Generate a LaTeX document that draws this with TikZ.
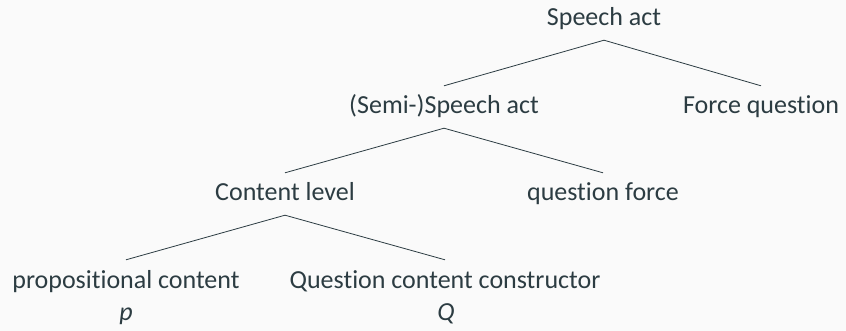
\documentclass[tikz,border=0pt]{standalone}
\usepackage{fontspec}
\setmainfont[RawFeature={-liga;-calt;-clig;-dlig}]{Carlito}
\definecolor{ink}{RGB}{44,60,66}
\definecolor{bg}{RGB}{250,250,250}
\begin{document}
\begin{tikzpicture}[x=1pt,y=-1pt,
  lab/.style={font=\fontsize{26}{30}\selectfont, text=ink, anchor=base, inner xsep=0pt, inner ysep=8pt, text height=20pt, text depth=6pt},
  edge/.style={draw=ink, line width=0.8pt}]
\fill[bg] (0,0) rectangle (846,331);
\useasboundingbox (0,0) rectangle (846,331);
\node[lab] (sa) at (604,26) {Speech act};
\node[lab] (ssa) at (444,114) {(Semi-)Speech act};
\node[lab] (fq) at (761,114) {Force question};
\node[lab] (cl) at (285,201) {Content level};
\node[lab] (qf) at (603,201) {question force};
\node[lab] (pc) at (126,288) {propositional content};
\node[lab] (qcc) at (445,288) {Question content constructor};
\node[lab] (p) at (126,320) {\itshape p};
\node[lab] (q) at (446,320) {\itshape Q};
\draw[edge] (sa.south) -- (ssa.north);
\draw[edge] (sa.south) -- (fq.north);
\draw[edge] (ssa.south) -- (cl.north);
\draw[edge] (ssa.south) -- (qf.north);
\draw[edge] (cl.south) -- (pc.north);
\draw[edge] (cl.south) -- (qcc.north);
\end{tikzpicture}
\end{document}
